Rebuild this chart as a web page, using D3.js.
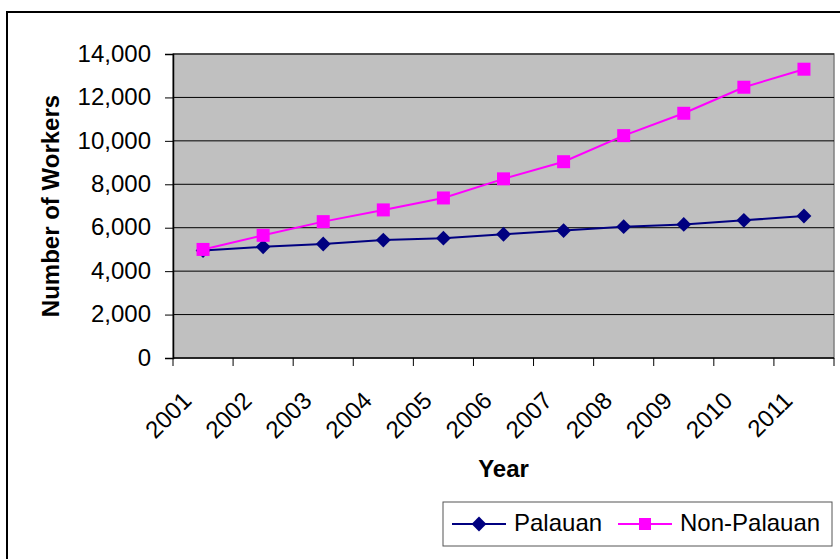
<!DOCTYPE html>
<html lang="en">
  <head>
    <meta charset="utf-8">
    <title>Palauan and Non-Palauan workers</title>
    <script src="https://d3js.org/d3.v7.js"></script>
    <style>
      body { margin: 0; }
      text { font-family: Arial, "Liberation Sans", sans-serif; }
    </style>
  </head>
  <body>
    <script type="text/javascript">
      var w = 840;
      var h = 559;

      // data
      var years = ["2001", "2002", "2003", "2004", "2005", "2006", "2007", "2008", "2009", "2010", "2011"];
      var palauan = [4950, 5120, 5250, 5430, 5520, 5700, 5870, 6050, 6150, 6340, 6540];
      var nonPalauan = [5000, 5650, 6280, 6820, 7370, 8250, 9040, 10240, 11270, 12470, 13300];
      var yTicks = [0, 2000, 4000, 6000, 8000, 10000, 12000, 14000];
      var seriesNames = ["Palauan", "Non-Palauan"];

      var plot = {left: 173, top: 54, right: 834, bottom: 358};

      var xScale = d3.scaleBand()
        .domain(years)
        .range([plot.left, plot.right]);

      var yScale = d3.scaleLinear()
        .domain([0, 14000])
        .range([plot.bottom, plot.top]);

      var svg = d3.select("body")
        .append("svg")
        .attr("width", w)
        .attr("height", h);

      svg.append("rect")
        .attr("width", w).attr("height", h)
        .attr("fill", "white");

      // outer chart frame (runs off the right and bottom)
      svg.append("rect")
        .attr("x", 7).attr("y", 12)
        .attr("width", 900).attr("height", 700)
        .attr("fill", "none")
        .attr("stroke", "black")
        .attr("stroke-width", 2);

      // plot area
      svg.append("rect")
        .attr("x", plot.left).attr("y", plot.top)
        .attr("width", plot.right - plot.left)
        .attr("height", plot.bottom - plot.top)
        .attr("fill", "#c0c0c0")
        .attr("stroke", "#808080")
        .attr("stroke-width", 1.5);

      // grid lines
      svg.append("g")
        .selectAll("line")
        .data(yTicks.filter(d => d > 0))
        .enter().append("line")
        .attr("x1", plot.left).attr("x2", plot.right)
        .attr("y1", d => yScale(d)).attr("y2", d => yScale(d))
        .attr("stroke", "black")
        .attr("stroke-width", 1);

      // y axis
      var yAxis = d3.axisLeft(yScale)
        .tickValues(yTicks)
        .tickFormat(d3.format(","))
        .tickSize(8)
        .tickPadding(14);
      var gy = svg.append("g")
        .attr("transform", `translate(${plot.left},0)`)
        .call(yAxis);
      gy.select(".domain").attr("stroke", "black").attr("stroke-width", 1.5);
      gy.selectAll(".tick line").attr("stroke", "black");
      gy.selectAll(".tick text")
        .attr("font-size", 24)
        .attr("fill", "black")
        .attr("dy", "0.3em");

      // x axis: ticks on band edges
      var edges = years.map(d => xScale(d)).concat([plot.right]);
      svg.append("line")
        .attr("x1", plot.left).attr("x2", plot.right)
        .attr("y1", plot.bottom).attr("y2", plot.bottom)
        .attr("stroke", "black").attr("stroke-width", 1.5);
      svg.append("g")
        .selectAll("line")
        .data(edges)
        .enter().append("line")
        .attr("x1", d => d).attr("x2", d => d)
        .attr("y1", plot.bottom).attr("y2", plot.bottom + 8)
        .attr("stroke", "black");

      svg.append("g")
        .selectAll("text")
        .data(years)
        .enter().append("text")
        .attr("transform", d => `translate(${xScale(d) + xScale.bandwidth() / 2 - 10},402) rotate(-45)`)
        .attr("text-anchor", "end")
        .attr("font-size", 24)
        .text(d => d);

      // axis titles
      svg.append("text")
        .attr("x", (plot.left + plot.right) / 2)
        .attr("y", 477)
        .attr("text-anchor", "middle")
        .attr("font-size", 24)
        .attr("font-weight", "bold")
        .text("Year");

      svg.append("text")
        .attr("transform", "translate(59,206) rotate(-90)")
        .attr("text-anchor", "middle")
        .attr("font-size", 24)
        .attr("font-weight", "bold")
        .text("Number of Workers");

      // series
      var cx = d => xScale(d) + xScale.bandwidth() / 2;
      var line = d3.line()
        .x((d, i) => cx(years[i]))
        .y(d => yScale(d));

      var diamond = d3.symbol().type(d3.symbolDiamond2).size(140);

      function drawSeries(values, color, marker) {
        svg.append("path")
          .datum(values)
          .attr("d", line)
          .attr("fill", "none")
          .attr("stroke", color)
          .attr("stroke-width", 2);
        var g = svg.append("g");
        values.forEach(function(v, i) {
          if (marker == "diamond") {
            g.append("path")
              .attr("d", diamond())
              .attr("transform", `translate(${cx(years[i])},${yScale(v)})`)
              .attr("fill", color);
          } else {
            g.append("rect")
              .attr("x", cx(years[i]) - 6.5).attr("y", yScale(v) - 6.5)
              .attr("width", 13).attr("height", 13)
              .attr("fill", color);
          }
        });
      }

      drawSeries(palauan, "#000080", "diamond");
      drawSeries(nonPalauan, "#ff00ff", "square");

      // legend
      svg.append("rect")
        .attr("x", 443).attr("y", 502)
        .attr("width", 389).attr("height", 44)
        .attr("fill", "white")
        .attr("stroke", "#555")
        .attr("stroke-width", 1);

      var legendItems = [
        {name: seriesNames[0], color: "#000080", marker: "diamond", x: 452},
        {name: seriesNames[1], color: "#ff00ff", marker: "square", x: 618}
      ];
      legendItems.forEach(function(d) {
        svg.append("line")
          .attr("x1", d.x).attr("x2", d.x + 54)
          .attr("y1", 524).attr("y2", 524)
          .attr("stroke", d.color).attr("stroke-width", 2);
        if (d.marker == "diamond") {
          svg.append("path")
            .attr("d", diamond())
            .attr("transform", `translate(${d.x + 27},524)`)
            .attr("fill", d.color);
        } else {
          svg.append("rect")
            .attr("x", d.x + 21).attr("y", 518)
            .attr("width", 12).attr("height", 12)
            .attr("fill", d.color);
        }
        svg.append("text")
          .attr("x", d.x + 62)
          .attr("y", 531)
          .attr("font-size", 24)
          .text(d.name);
      });
    </script>
  </body>
</html>
